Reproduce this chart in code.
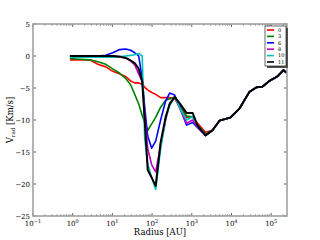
<!DOCTYPE html>
<html lang="en">
  <head>
    <script src="https://d3js.org/d3.v7.min.js"></script>
    <style>
      body {
        margin: 0;
        background-color: #fff;
      }
      text {
        font-family: "DejaVu Serif", "Liberation Serif", serif;
        fill: #000;
      }
    </style>
  </head>
  <body>
    <div id="chart"></div>
    <script>
      // radius grid [AU], shared by every snapshot
      const radius = [
        0.85, 1.52, 2.7, 4.3, 6.82, 10.2, 15.3, 21.6, 28.8, 36.5, 46.0, 56.4,
        65.2, 77.5, 97.7, 123, 164, 220, 277, 370, 524, 740, 1047, 1400, 2220,
        3330, 4990, 9440, 15900, 28300, 42400, 60100, 90100, 143000, 203000,
        241000,
      ];
      // outer part where all curves coincide
      const tail = [-11.6, -10.1, -9.6, -8.2, -5.6, -4.9, -4.8, -3.9, -3.2, -2.2, -2.6];

      const v0 = [
        -0.6, -0.6, -0.6, -1.3, -1.7, -2.4, -2.8, -3.2, -3.9, -4.2, -4.2, -4.4,
        -4.9, -5.3, -5.7, -6.0, -6.5, -6.5, -6.5, -6.7, -8.1, -9.6, -9.5, -10.5,
        -11.9,
      ].concat(tail);
      const v3 = [
        -0.4, -0.5, -0.6, -0.9, -1.3, -2.0, -2.7, -3.5, -4.5, -6.0, -7.5, -9.3,
        -10.4, -11.6, -10.6, -9.6, -8.0, -6.9, -6.7, -6.4, -7.8, -9.4, -9.5,
        -10.8, -12.2,
      ].concat(tail);
      const v6 = [
        0, 0, 0, 0, 0.1, 0.5, 1.0, 1.1, 0.9, 0.5, 0.0, -3.5, -8.0, -12.5, -14.4,
        -13.3, -10.0, -7.0, -5.8, -6.1, -8.4, -10.8, -10.4, -11.2, -12.4,
      ].concat(tail);
      const v8 = [
        0, 0, 0, 0, 0, 0, -0.1, -0.3, -0.8, -1.4, -2.8, -4.0, -9.0, -14.5,
        -17.0, -18.1, -14.0, -10.0, -7.4, -6.4, -8.5, -10.5, -10.0, -11.1,
        -12.4,
      ].concat(tail);
      const v10 = [
        -0.2, -0.2, -0.2, -0.2, -0.2, -0.2, -0.1, 0, 0.1, 0.2, 0.4, 0.0, -13.0,
        -16.8, -19.0, -20.8, -14.5, -9.7, -7.8, -6.4, -8.4, -10.0, -9.5, -10.8,
        -12.4,
      ].concat(tail);
      const v11 = [
        0, 0, 0, 0, 0, 0, -0.1, -0.3, -0.7, -1.1, -2.0, -4.0, -10.0, -17.8,
        -19.0, -20.3, -13.5, -9.5, -7.5, -6.4, -7.6, -8.9, -8.9, -10.9, -12.4,
      ].concat(tail);

      const labels = ["0", "3", "6", "8", "10", "11"];
      const colors = ["#ff0000", "#008000", "#0000ff", "#bf00bf", "#00bfbf", "#000000"];
      const values = [v0, v3, v6, v8, v10, v11];
      const yTicks = [5, 0, -5, -10, -15, -20, -25];
      const xTicks = [-1, 0, 1, 2, 3, 4, 5];

      const width = 320;
      const height = 240;
      const margin = { left: 33, right: 33, top: 24, bottom: 24 };

      const svg = d3
        .select("#chart")
        .append("svg")
        .attr("width", width)
        .attr("height", height);

      const x = d3
        .scaleLog()
        .domain([0.1, 250000])
        .range([margin.left, width - margin.right]);
      const y = d3
        .scaleLinear()
        .domain([-25, 5])
        .range([height - margin.bottom, margin.top]);

      const x0 = x.range()[0];
      const x1 = x.range()[1];
      const y0 = y.range()[0];
      const y1 = y.range()[1];

      // minor log ticks (inside, bottom + top)
      const minor = [];
      for (let e = -1; e <= 5; e++) {
        for (let m = 2; m <= 9; m++) {
          const v = m * Math.pow(10, e);
          if (v < 250000) minor.push(v);
        }
      }
      const tickG = svg.append("g").attr("stroke", "#000").attr("stroke-width", 0.6);
      minor.forEach((v) => {
        tickG.append("line").attr("x1", x(v)).attr("x2", x(v)).attr("y1", y0).attr("y2", y0 - 1.5);
        tickG.append("line").attr("x1", x(v)).attr("x2", x(v)).attr("y1", y1).attr("y2", y1 + 1.5);
      });
      xTicks.forEach((e) => {
        const px = x(Math.pow(10, e));
        tickG.append("line").attr("x1", px).attr("x2", px).attr("y1", y0).attr("y2", y0 - 3);
        tickG.append("line").attr("x1", px).attr("x2", px).attr("y1", y1).attr("y2", y1 + 3);
        const t = svg
          .append("text")
          .attr("x", px)
          .attr("y", y0 + 10)
          .attr("text-anchor", "middle")
          .attr("font-size", 7);
        t.append("tspan").text("10");
        t.append("tspan").attr("dy", -3).attr("font-size", 5).text(e < 0 ? "\u2212" + -e : e);
      });
      yTicks.forEach((v) => {
        const py = y(v);
        tickG.append("line").attr("x1", x0).attr("x2", x0 + 3).attr("y1", py).attr("y2", py);
        tickG.append("line").attr("x1", x1).attr("x2", x1 - 3).attr("y1", py).attr("y2", py);
        svg
          .append("text")
          .attr("x", x0 - 3)
          .attr("y", py + 2.5)
          .attr("text-anchor", "end")
          .attr("font-size", 7)
          .text(v < 0 ? "\u2212" + -v : v);
      });

      // curves
      const line = d3
        .line()
        .x((d) => x(d[0]))
        .y((d) => y(d[1]));
      values.forEach((vals, i) => {
        svg
          .append("path")
          .datum(radius.map((r, j) => [r, vals[j]]))
          .attr("d", line)
          .attr("fill", "none")
          .attr("stroke", colors[i])
          .attr("stroke-width", i === 5 ? 2 : 1.6)
          .attr("stroke-linejoin", "round");
      });

      // frame
      svg
        .append("rect")
        .attr("x", x0)
        .attr("y", y1)
        .attr("width", x1 - x0)
        .attr("height", y0 - y1)
        .attr("fill", "none")
        .attr("stroke", "#a0a0a0")
        .attr("stroke-width", 1.6);

      // axis labels
      const yl = svg
        .append("text")
        .attr("transform", "translate(13,120) rotate(-90)")
        .attr("text-anchor", "middle")
        .attr("font-size", 8.5);
      yl.append("tspan").text("V");
      yl.append("tspan").attr("dy", 2).attr("font-size", 5.5).text("rad");
      yl.append("tspan").attr("dy", -2).text(" [Km/s]");
      svg
        .append("text")
        .attr("x", 160)
        .attr("y", 235)
        .attr("text-anchor", "middle")
        .attr("font-size", 8.5)
        .text("Radius [AU]");

      // legend
      const lg = svg.append("g").attr("transform", "translate(265,26)");
      lg.append("rect").attr("x", 2).attr("y", 2).attr("width", 21).attr("height", 40).attr("fill", "#555");
      lg.append("rect")
        .attr("width", 21)
        .attr("height", 40)
        .attr("fill", "#fff")
        .attr("stroke", "#000")
        .attr("stroke-width", 0.6);
      labels.forEach((lab, i) => {
        const ly = 4 + i * 6.4;
        lg.append("line")
          .attr("x1", 2)
          .attr("x2", 9)
          .attr("y1", ly)
          .attr("y2", ly)
          .attr("stroke", colors[i])
          .attr("stroke-width", 1.6);
        lg.append("text")
          .attr("x", 13)
          .attr("y", ly + 1.8)
          .attr("font-size", 5)
          .attr("font-family", "DejaVu Sans, sans-serif")
          .text(lab);
      });
    </script>
  </body>
</html>
